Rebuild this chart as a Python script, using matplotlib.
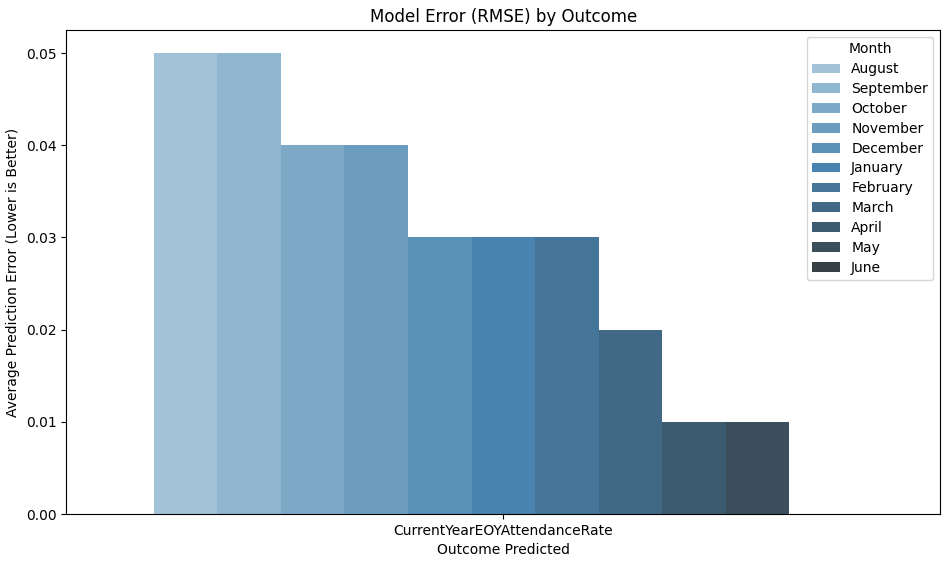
import pandas as pd
import seaborn as sns
import matplotlib
matplotlib.use("Agg")
import matplotlib.pyplot as plt

# Dados
outcome = "CurrentYearEOYAttendanceRate"
months = ["August", "September", "October", "November", "December", "January",
          "February", "March", "April", "May", "June"]
rmse = [0.05, 0.05, 0.04, 0.04, 0.03, 0.03, 0.03, 0.02, 0.01, 0.01, 0.0]

df = pd.DataFrame({"Outcome": [outcome] * len(months), "Month": months, "RMSE": rmse})

fig, ax = plt.subplots(figsize=(9.48, 5.65), dpi=100)
sns.barplot(data=df, x="Outcome", y="RMSE", hue="Month", hue_order=months,
            palette="Blues_d", ax=ax)

ax.set_title("Model Error (RMSE) by Outcome")
ax.set_xlabel("Outcome Predicted")
ax.set_ylabel("Average Prediction Error (Lower is Better)")
ax.legend(title="Month", loc="upper right", labelspacing=0.42)

fig.subplots_adjust(left=0.07, right=0.992, top=0.947, bottom=0.09)
fig.savefig("out.png", dpi=100)
